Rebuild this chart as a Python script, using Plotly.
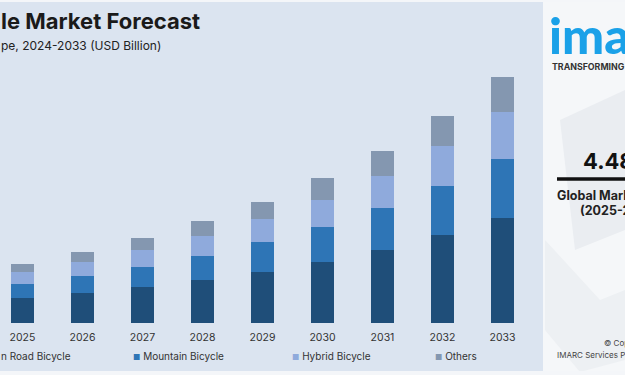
import plotly.graph_objects as go

years = ["2025", "2026", "2027", "2028", "2029", "2030", "2031", "2032", "2033"]
road = [10.4, 12.4, 14.9, 17.8, 21.2, 25.3, 30.3, 36.5, 43.6]
mountain = [5.8, 7.1, 8.3, 10.0, 12.4, 14.5, 17.4, 20.3, 24.5]
hybrid = [5.0, 5.8, 7.1, 8.3, 9.5, 11.2, 13.3, 16.6, 19.5]
others = [3.3, 4.1, 5.0, 6.2, 7.1, 9.1, 10.4, 12.4, 14.5]
series_names = ["Road Bicycle", "Mountain Bicycle", "Hybrid Bicycle", "Others"]
colors = ["#1f4e79", "#2e75b6", "#8faadc", "#8497b0"]
total_label = "102.05 B"

W, H = 625, 375
FONT = "Inter"

fig = go.Figure()
for name, vals, col in zip(series_names, [road, mountain, hybrid, others], colors):
    fig.add_trace(go.Bar(x=years, y=vals, name=name, marker_color=col,
                         marker_line_width=0, width=0.39, showlegend=False))

panel_right = 543
fig.update_layout(
    width=W, height=H, barmode="stack",
    margin=dict(l=0, r=0, t=0, b=0),
    paper_bgcolor="#dbe4f0", plot_bgcolor="rgba(0,0,0,0)",
    font=dict(family=FONT, color="#333333"),
    xaxis=dict(domain=[0, panel_right / W], range=[-0.375, 8.675], type="category",
               showgrid=False, zeroline=False, showline=False, ticks="",
               ticklabelstandoff=6,
               tickfont=dict(size=10.5, color="#333333"), fixedrange=True),
    yaxis=dict(domain=[(H - 323) / H, (H - 33.7) / H], range=[0, 120], visible=False,
               fixedrange=True),
)

shapes = []
# right panel
shapes.append(dict(type="rect", xref="paper", yref="paper", x0=panel_right / W, x1=1, y0=0, y1=1,
                   fillcolor="#f5f7f9", line_width=0, layer="below"))
shapes.append(dict(type="path", xref="paper", yref="paper",
                   path=f"M {560/W},{(H-120)/H} L {625/W},{(H-90)/H} L {625/W},{(H-230)/H} L {575/W},{(H-250)/H} Z",
                   fillcolor="#eaedf1", line_width=0, layer="below"))
shapes.append(dict(type="path", xref="paper", yref="paper",
                   path=f"M {545/W},{(H-240)/H} L {600/W},{(H-300)/H} L {625/W},{(H-290)/H} L {625/W},{(H-360)/H} L {580/W},{(H-372)/H} L {545/W},{(H-330)/H} Z",
                   fillcolor="#edf0f3", line_width=0, layer="below"))
# thin light borders top/bottom
shapes.append(dict(type="rect", xref="paper", yref="paper", x0=0, x1=1, y0=(H - 2) / H, y1=1,
                   fillcolor="#f4f6f9", line_width=0, layer="below"))
shapes.append(dict(type="rect", xref="paper", yref="paper", x0=0, x1=1, y0=0, y1=4 / H,
                   fillcolor="#f4f6f9", line_width=0, layer="below"))
# black line under 4.48
shapes.append(dict(type="line", xref="paper", yref="paper", x0=557 / W, x1=1, y0=(H - 179) / H,
                   y1=(H - 179) / H, line=dict(color="#111111", width=3.5)))
fig.update_layout(shapes=shapes)


def ann(text, x, y, size, color="#333333", bold=False, xanchor="left", family=FONT, weight=None):
    if bold and weight is None:
        text = f"<b>{text}</b>"
    f = dict(size=size, color=color, family=family)
    if weight is not None:
        f["weight"] = weight
    fig.add_annotation(text=text, x=x / W, y=(H - y) / H, xref="paper", yref="paper",
                       xanchor=xanchor, yanchor="middle", showarrow=False, font=f)


# titles (cropped at left as in reference)
ann("le Market Forecast", -1, 21, 22, "#1a1a1a", bold=True)
ann("pe, 2024-2033 (USD Billion)", -1, 45, 12, "#222222")

# total label above last bar
fig.add_annotation(text="<b>USD<br>" + total_label + "</b>", x=years[-1], y=sum(
    v[-1] for v in [road, mountain, hybrid, others]), xref="x", yref="y", yanchor="bottom",
    showarrow=False, yshift=3, font=dict(size=11.5, color="#1a1a1a", family=FONT))

# legend (manual); first item's marker is cropped off in the reference
LEG_Y = 356
fig.add_annotation(text="n " + series_names[0], x=-1 / W, y=(H - LEG_Y) / H,
                   xref="paper", yref="paper", xanchor="left", yanchor="middle",
                   showarrow=False, font=dict(size=10, color="#333333", family=FONT))
leg = [(series_names[1], colors[1], 131), (series_names[2], colors[2], 290),
       (series_names[3], colors[3], 433)]
for name, col, x in leg:
    fig.add_annotation(text=f"<span style='color:{col};font-size:8px'>■</span> {name}",
                       x=x / W, y=(H - LEG_Y) / H,
                       xref="paper", yref="paper", xanchor="left", yanchor="middle",
                       showarrow=False, font=dict(size=10, color="#333333", family=FONT))

# right panel texts
ann("imarc", 547, 35, 50, "#1aa1e8", family="Lato", weight=900)
ann("TRANSFORMING IDEAS", 550, 67, 8.8, "#333333", bold=True)
ann("4.48%", 581, 161, 22, "#111111", bold=True)
ann("Global Market Growth Rate", 555, 195, 12.5, "#222222", bold=True)
ann("(2025-2033)", 578, 210, 12.5, "#222222", bold=True)
ann("© Copyright", 602, 343, 8, "#444444")
ann("IMARC Services Private Limited", 555, 355, 8, "#444444")

fig.write_html("out.html", config={"displayModeBar": False},
               post_script="document.body.style.margin='0';document.body.style.overflow='hidden';")
